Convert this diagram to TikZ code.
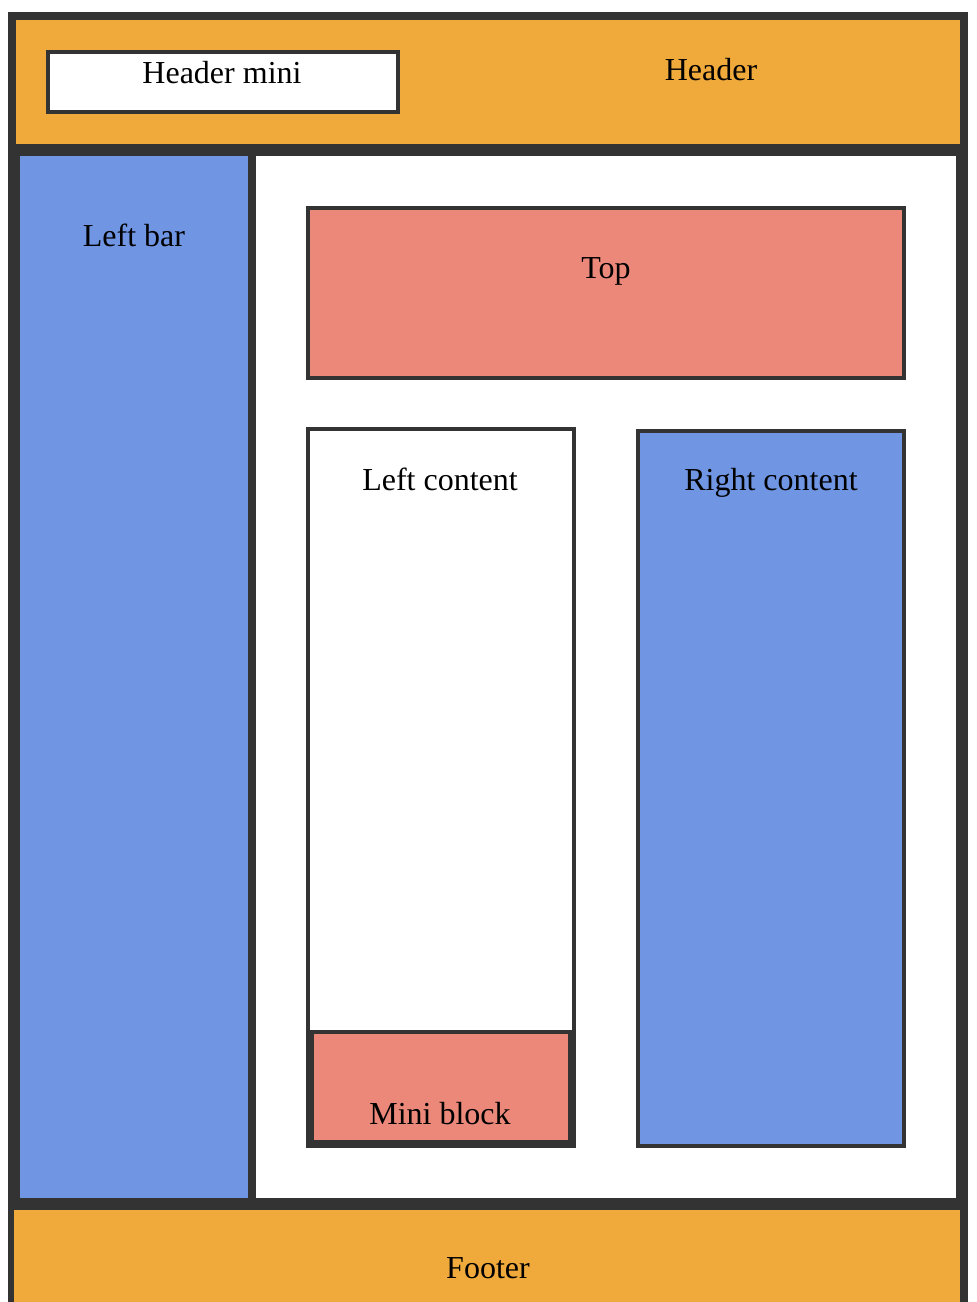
\documentclass[tikz,border=0pt]{standalone}
\usepackage{fontspec}
\setmainfont{Liberation Serif}
\definecolor{frame}{HTML}{333333}
\definecolor{bandorange}{HTML}{F0A93B}
\definecolor{barblue}{HTML}{6F95E3}
\definecolor{blocksalmon}{HTML}{EB887A}
\begin{document}
\begin{tikzpicture}[x=0.5pt, y=-0.5pt, font=\fontsize{16pt}{19pt}\selectfont, line join=miter, line cap=rect,
    panel/.style={draw=frame, line width=2pt},
    caption/.style={anchor=base, inner sep=0pt, outer sep=0pt}]
    \useasboundingbox[fill=white] (0, 0) rectangle (976, 1302);

    % outer frame and bands
    \fill[frame] (8, 12) rectangle (968, 1302);
    \fill[bandorange] (16, 20) rectangle (960, 144);
    \fill[barblue] (20, 156) rectangle (248, 1198);
    \fill[white] (256, 156) rectangle (956, 1198);
    \fill[bandorange] (14, 1210) rectangle (960, 1302);

    % inner blocks
    \draw[panel, fill=white] (48, 52) rectangle (398, 112);
    \draw[panel, fill=blocksalmon] (308, 208) rectangle (904, 378);
    \draw[panel, fill=white] (308, 429) rectangle (574, 1146);
    \draw[panel, fill=blocksalmon] (312, 1032) rectangle (570, 1142);
    \draw[panel, fill=barblue] (638, 431) rectangle (904, 1146);

    % labels
    \node[caption] (headermini) at (222, 83) {Header mini};
    \node[caption] (header) at (711, 80) {Header};
    \node[caption] (leftbar) at (134, 246) {Left bar};
    \node[caption] (top) at (606, 278) {Top};
    \node[caption] (leftcontent) at (440, 490) {Left content};
    \node[caption] (rightcontent) at (771, 490) {Right content};
    \node[caption] (miniblock) at (440, 1124) {Mini block};
    \node[caption] (footer) at (488, 1278) {Footer};
\end{tikzpicture}
\end{document}
